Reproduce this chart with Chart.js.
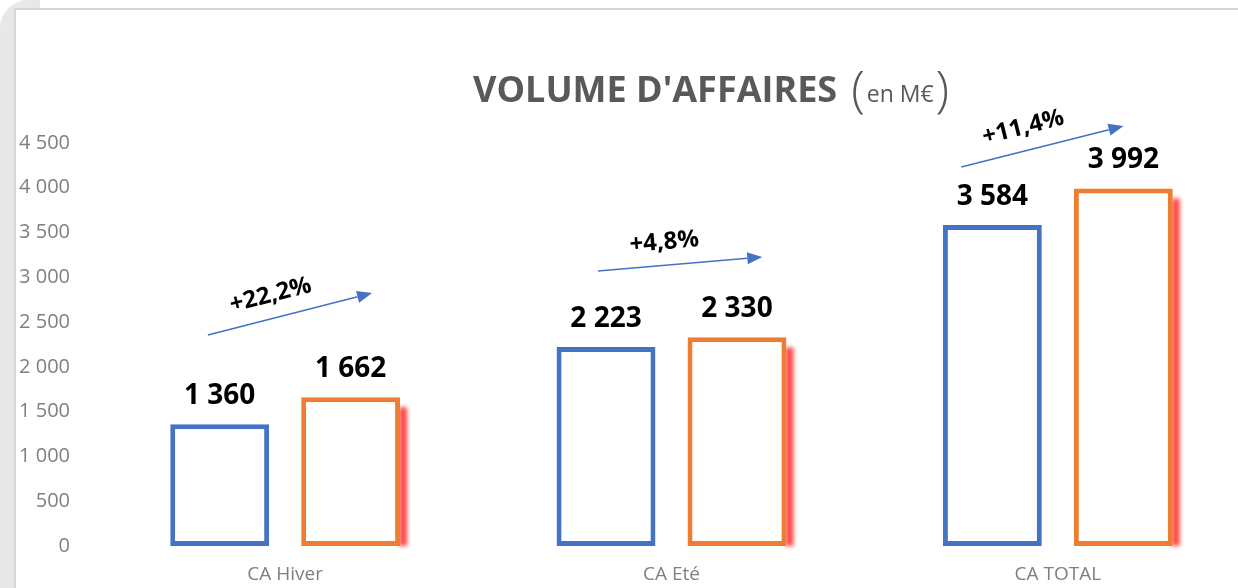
<!DOCTYPE html>
<html>
<head>
<meta charset="utf-8">
<script src="https://cdn.jsdelivr.net/npm/chart.js@4.4.1/dist/chart.umd.min.js"></script>
<style>
    body { margin: 0; background: #fff; overflow: hidden; width: 1238px; height: 588px; position: relative; }
    #strip { position: absolute; left: 0; top: 0; width: 40px; height: 588px; background: #e8e8e8; border-top-left-radius: 28px; }
    #frame { position: absolute; left: 14px; top: 8px; width: 1300px; height: 600px; background: #fff;
             border-left: 2px solid #d6d6d6; border-top: 2px solid #d6d6d6; }
    canvas { display: block; }
</style>
</head>
<body>
<div id="strip"></div>
<div id="frame"><canvas id="myChart" width="1270" height="578"></canvas></div>
<script>
// chart data
const categories = ['CA Hiver', 'CA Eté', 'CA TOTAL'];
const valuesPrev = [1360, 2223, 3584];
const valuesCurr = [1662, 2330, 3992];
const yTickValues = [0, 500, 1000, 1500, 2000, 2500, 3000, 3500, 4000, 4500];

// arrow annotations, in data units (category offset, value)
const arrowGeom = [
    { x0: -0.20, y0: 2355, x1: 0.225, y1: 2824 },
    { x0: -0.19, y0: 3070, x1: 0.235, y1: 3227 },
    { x0: -0.25, y0: 4232, x1: 0.17, y1: 4690 }
];

const FONT = '"Open Sans", "Noto Sans", sans-serif';
const BLUE = '#4472C4';
const ORANGE = '#ED7D31';

// 1360 -> "1 360"
function fmt(v) {
    return String(v).replace(/\B(?=(\d{3})+(?!\d))/g, ' ');
}

// "+22,2%"
function growthLabel(i) {
    const pct = (valuesCurr[i] / valuesPrev[i] - 1) * 100;
    return '+' + pct.toFixed(1).replace('.', ',') + '%';
}

// red glow on the right side of the orange bars
const glowPlugin = {
    id: 'glow',
    beforeDatasetsDraw(chart) {
        const ctx = chart.ctx;
        const meta = chart.getDatasetMeta(1);
        ctx.save();
        ctx.filter = 'blur(2px)';
        ctx.fillStyle = 'rgba(255, 60, 60, 0.95)';
        meta.data.forEach(bar => {
            const right = bar.x + bar.width / 2;
            ctx.fillRect(right - 1, bar.y + 10, 8, bar.base - bar.y - 10);
        });
        ctx.restore();
    }
};

// values above the bars, arrows, growth labels, title
const overlayPlugin = {
    id: 'overlay',
    afterDatasetsDraw(chart) {
        const ctx = chart.ctx;
        ctx.save();
        ctx.font = 'bold 28px ' + FONT;
        ctx.fillStyle = '#000';
        ctx.textAlign = 'center';
        ctx.textBaseline = 'middle';
        chart.data.datasets.forEach((ds, di) => {
            chart.getDatasetMeta(di).data.forEach((bar, i) => {
                ctx.fillText(fmt(ds.data[i]), bar.x, bar.y - 28);
            });
        });
        ctx.restore();
    },
    afterDraw(chart) {
        const ctx = chart.ctx;
        const xs = chart.scales.x;
        const ys = chart.scales.y;
        const step = xs.getPixelForValue(1) - xs.getPixelForValue(0);

        arrowGeom.forEach((a, i) => {
            const cx = xs.getPixelForValue(i);
            const px0 = cx + a.x0 * step, py0 = ys.getPixelForValue(a.y0);
            const px1 = cx + a.x1 * step, py1 = ys.getPixelForValue(a.y1);
            const ang = Math.atan2(py1 - py0, px1 - px0);
            const headLen = 15, headW = 6;

            ctx.save();
            ctx.strokeStyle = BLUE;
            ctx.fillStyle = BLUE;
            ctx.lineWidth = 1.5;
            ctx.beginPath();
            ctx.moveTo(px0, py0);
            ctx.lineTo(px1 - headLen * Math.cos(ang), py1 - headLen * Math.sin(ang));
            ctx.stroke();
            ctx.translate(px1, py1);
            ctx.rotate(ang);
            ctx.beginPath();
            ctx.moveTo(0, 0);
            ctx.lineTo(-headLen, -headW);
            ctx.lineTo(-headLen, headW);
            ctx.closePath();
            ctx.fill();
            ctx.restore();

            // growth label
            ctx.save();
            ctx.translate((px0 + px1) / 2, (py0 + py1) / 2);
            ctx.rotate(ang);
            ctx.font = 'bold 24px ' + FONT;
            ctx.fillStyle = '#000';
            ctx.textAlign = 'center';
            ctx.textBaseline = 'bottom';
            ctx.fillText(growthLabel(i), -14, -11);
            ctx.restore();
        });

        // title: "VOLUME D'AFFAIRES (en M€)"
        ctx.save();
        ctx.fillStyle = '#595959';
        ctx.textBaseline = 'alphabetic';
        let x = 457;
        const base = 92;
        ctx.font = 'bold 36px ' + FONT;
        const main = "VOLUME D'AFFAIRES";
        ctx.fillText(main, x, base);
        x += ctx.measureText(main).width + 14;
        ctx.font = '300 50px ' + FONT;
        ctx.fillText('(', x, base + 5);
        x += ctx.measureText('(').width + 2;
        ctx.font = '23px ' + FONT;
        ctx.fillText('en M€', x, base);
        x += ctx.measureText('en M€').width + 2;
        ctx.font = '300 50px ' + FONT;
        ctx.fillText(')', x, base + 5);
        ctx.restore();
    }
};

const ctx = document.getElementById('myChart').getContext('2d');
new Chart(ctx, {
    type: 'bar',
    data: {
        labels: categories,
        datasets: [{
            label: 'N-1',
            data: valuesPrev,
            backgroundColor: '#ffffff',
            borderColor: BLUE,
            borderWidth: 5,
            borderSkipped: false
        }, {
            label: 'N',
            data: valuesCurr,
            backgroundColor: '#ffffff',
            borderColor: ORANGE,
            borderWidth: 5,
            borderSkipped: false
        }]
    },
    options: {
        responsive: false,
        animation: false,
        categoryPercentage: 0.678,
        barPercentage: 0.755,
        layout: { padding: { left: 0, right: 35, top: 133, bottom: 0 } },
        plugins: {
            legend: { display: false },
            tooltip: { enabled: false },
            title: { display: false }
        },
        scales: {
            x: {
                grid: { display: false, drawTicks: false },
                border: { display: false },
                ticks: { color: '#7f7f7f', font: { family: FONT, size: 19 }, padding: 17 },
                afterFit: s => { s.height = 42; }
            },
            y: {
                min: 0,
                max: 4500,
                afterBuildTicks: s => { s.ticks = yTickValues.map(v => ({ value: v })); },
                grid: { display: false, drawTicks: false },
                border: { display: false },
                ticks: {
                    autoSkip: false,
                    color: '#7f7f7f',
                    font: { family: FONT, size: 20 },
                    padding: 22,
                    callback: v => fmt(v)
                },
                afterFit: s => { s.width = 76; }
            }
        }
    },
    plugins: [glowPlugin, overlayPlugin]
});
</script>
</body>
</html>
